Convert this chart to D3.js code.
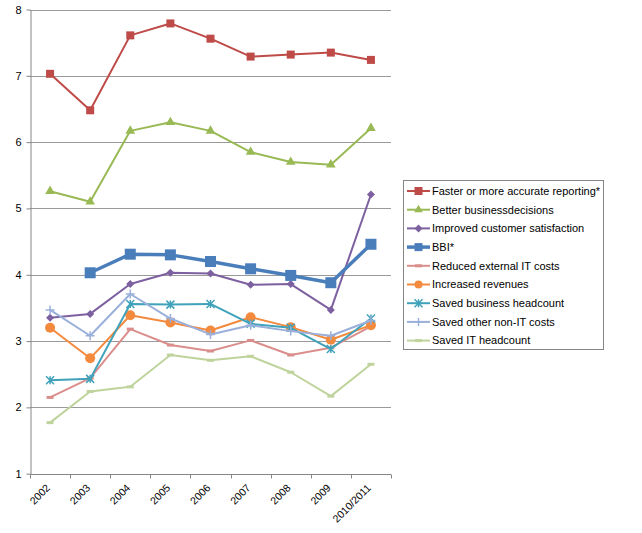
<!DOCTYPE html>
<html>
<head>
<meta charset="utf-8">
<script src="https://cdn.jsdelivr.net/npm/d3@7"></script>
<style>
  body { margin: 0; background: #fff; }
  text { font-family: "Liberation Sans", Arial, sans-serif; }
</style>
</head>
<body>
<div id="chart"></div>
<script>
// Chart data
const years = ["2002", "2003", "2004", "2005", "2006", "2007", "2008", "2009", "2010/2011"];
const yTicks = [1, 2, 3, 4, 5, 6, 7, 8];

const fasterReporting = [7.03, 6.48, 7.61, 7.79, 7.56, 7.29, 7.32, 7.35, 7.24];
const betterDecisions = [5.26, 5.10, 6.17, 6.30, 6.17, 5.85, 5.70, 5.66, 6.21];
const customerSatisfaction = [3.35, 3.41, 3.86, 4.03, 4.02, 3.85, 3.86, 3.47, 5.21];
const bbi = [null, 4.03, 4.31, 4.30, 4.20, 4.09, 3.99, 3.88, 4.46];
const reducedExternalIT = [2.15, 2.44, 3.18, 2.94, 2.85, 3.01, 2.79, 2.90, 3.22];
const increasedRevenues = [3.20, 2.74, 3.39, 3.28, 3.16, 3.36, 3.21, 3.02, 3.24];
const savedBusinessHeadcount = [2.41, 2.43, 3.56, 3.55, 3.56, 3.26, 3.20, 2.88, 3.34];
const savedOtherNonIT = [3.47, 3.08, 3.71, 3.34, 3.10, 3.24, 3.15, 3.08, 3.31];
const savedITHeadcount = [1.77, 2.24, 2.31, 2.79, 2.71, 2.77, 2.53, 2.17, 2.65];

const series = [
  { name: "Faster or more accurate reporting*", values: fasterReporting, color: "#BE4B48", width: 2, marker: "square", size: 8 },
  { name: "Better businessdecisions", values: betterDecisions, color: "#98B954", width: 2, marker: "triangle", size: 9 },
  { name: "Improved customer satisfaction", values: customerSatisfaction, color: "#7D60A0", width: 2, marker: "diamond", size: 8 },
  { name: "BBI*", values: bbi, color: "#4A7EBB", width: 3.5, marker: "square", size: 11 },
  { name: "Reduced external IT costs", values: reducedExternalIT, color: "#DA8E8C", width: 2, marker: "dash", size: 7 },
  { name: "Increased revenues", values: increasedRevenues, color: "#F38A3E", width: 2, marker: "circle", size: 10 },
  { name: "Saved business headcount", values: savedBusinessHeadcount, color: "#3FA2BA", width: 2, marker: "asterisk", size: 8 },
  { name: "Saved other non-IT costs", values: savedOtherNonIT, color: "#9AB0DA", width: 2, marker: "plus", size: 9 },
  { name: "Saved IT headcount", values: savedITHeadcount, color: "#BFD39C", width: 2, marker: "dash", size: 7 }
];

const W = 642, H = 533;
const plot = { left: 30, top: 9.5, right: 391, bottom: 473.7 };

const svg = d3.select("#chart").append("svg")
  .attr("width", W)
  .attr("height", H);

const x = d3.scaleBand().domain(years).range([plot.left, plot.right]);
const y = d3.scaleLinear().domain([1, 8]).range([plot.bottom, plot.top]);

// gridlines
svg.append("g")
  .selectAll("line")
  .data(yTicks.filter(d => d > 1))
  .join("line")
  .attr("x1", plot.left)
  .attr("x2", plot.right)
  .attr("y1", d => Math.round(y(d)) + 0.5)
  .attr("y2", d => Math.round(y(d)) + 0.5)
  .attr("stroke", "#9a9a9a")
  .attr("stroke-width", 1);

// y axis
const yAxis = svg.append("g")
  .attr("transform", `translate(${plot.left + 0.5},0)`)
  .call(d3.axisLeft(y).tickValues(yTicks).tickSize(4).tickSizeOuter(0).tickFormat(d3.format("d")));
yAxis.select(".domain").attr("stroke", "#868686");
yAxis.selectAll(".tick line").attr("stroke", "#868686");
yAxis.selectAll(".tick text")
  .attr("x", -9)
  .attr("font-size", "11px")
  .attr("font-family", "Liberation Sans, Arial, sans-serif")
  .attr("fill", "#000");

// x axis: ticks at category boundaries
const xAxisG = svg.append("g")
  .attr("transform", `translate(0,${Math.round(plot.bottom) + 0.5})`);
xAxisG.append("line")
  .attr("x1", plot.left)
  .attr("x2", plot.right)
  .attr("stroke", "#868686");
xAxisG.selectAll(".bound")
  .data(years.map(d => x(d)).concat([plot.right]))
  .join("line")
  .attr("class", "bound")
  .attr("x1", d => Math.round(d) + 0.5)
  .attr("x2", d => Math.round(d) + 0.5)
  .attr("y1", 0)
  .attr("y2", 4)
  .attr("stroke", "#868686");
xAxisG.selectAll("text")
  .data(years)
  .join("text")
  .attr("transform", d => `translate(${x(d) + x.bandwidth() / 2 - 2},11.5) rotate(-45)`)
  .attr("text-anchor", "end")
  .attr("dy", "0.35em")
  .attr("font-size", "10.5px")
  .attr("fill", "#000")
  .text(d => d);

// marker drawing
function drawMarker(g, s) {
  const r = s.size / 2;
  if (s.marker === "square") {
    g.append("rect").attr("x", -r).attr("y", -r).attr("width", s.size).attr("height", s.size).attr("fill", s.color);
  } else if (s.marker === "triangle") {
    g.append("path").attr("d", d3.symbol(d3.symbolTriangle, s.size * s.size * 0.5)()).attr("fill", s.color);
  } else if (s.marker === "diamond") {
    g.append("path").attr("d", `M0,${-r}L${r},0L0,${r}L${-r},0Z`).attr("fill", s.color);
  } else if (s.marker === "circle") {
    g.append("circle").attr("r", r).attr("fill", s.color);
  } else if (s.marker === "asterisk") {
    g.append("path")
      .attr("d", `M${-r},${-r}L${r},${r}M${-r},${r}L${r},${-r}M0,${-r}L0,${r}`)
      .attr("stroke", s.color).attr("stroke-width", 1.5).attr("fill", "none");
  } else if (s.marker === "plus") {
    g.append("path")
      .attr("d", `M${-r},0L${r},0M0,${-r}L0,${r}`)
      .attr("stroke", s.color).attr("stroke-width", 1.5).attr("fill", "none");
  } else if (s.marker === "dash") {
    g.append("path")
      .attr("d", `M${-r},0L${r},0`)
      .attr("stroke", s.color).attr("stroke-width", 3).attr("fill", "none");
  }
}

const line = d3.line()
  .defined(d => d.v !== null)
  .x(d => x(d.year) + x.bandwidth() / 2)
  .y(d => y(d.v));

series.forEach(s => {
  const pts = years.map((yr, i) => ({ year: yr, v: s.values[i] }));
  svg.append("path")
    .datum(pts)
    .attr("fill", "none")
    .attr("stroke", s.color)
    .attr("stroke-width", s.width)
    .attr("stroke-linejoin", "round")
    .attr("d", line);
  svg.append("g")
    .selectAll("g")
    .data(pts.filter(d => d.v !== null))
    .join("g")
    .attr("transform", d => `translate(${x(d.year) + x.bandwidth() / 2},${y(d.v)})`)
    .each(function () { drawMarker(d3.select(this), s); });
});

// legend
const legend = svg.append("g").attr("transform", "translate(403,180)");
legend.append("rect")
  .attr("x", 0.5)
  .attr("y", 0.5)
  .attr("width", 200)
  .attr("height", 169)
  .attr("fill", "#fff")
  .attr("stroke", "#868686");

const items = legend.selectAll(".item")
  .data(series)
  .join("g")
  .attr("class", "item")
  .attr("transform", (d, i) => `translate(0,${11 + i * 18.7})`);

items.append("line")
  .attr("x1", 4)
  .attr("x2", 27)
  .attr("stroke", d => d.color)
  .attr("stroke-width", d => d.width);
items.append("g")
  .attr("transform", "translate(15.5,0)")
  .each(function (d) {
    drawMarker(d3.select(this), Object.assign({}, d, { size: Math.min(d.size, 8) }));
  });
items.append("text")
  .attr("x", 29)
  .attr("dy", "0.35em")
  .attr("font-size", "11px")
  .attr("fill", "#000")
  .text(d => d.name);
</script>
</body>
</html>
